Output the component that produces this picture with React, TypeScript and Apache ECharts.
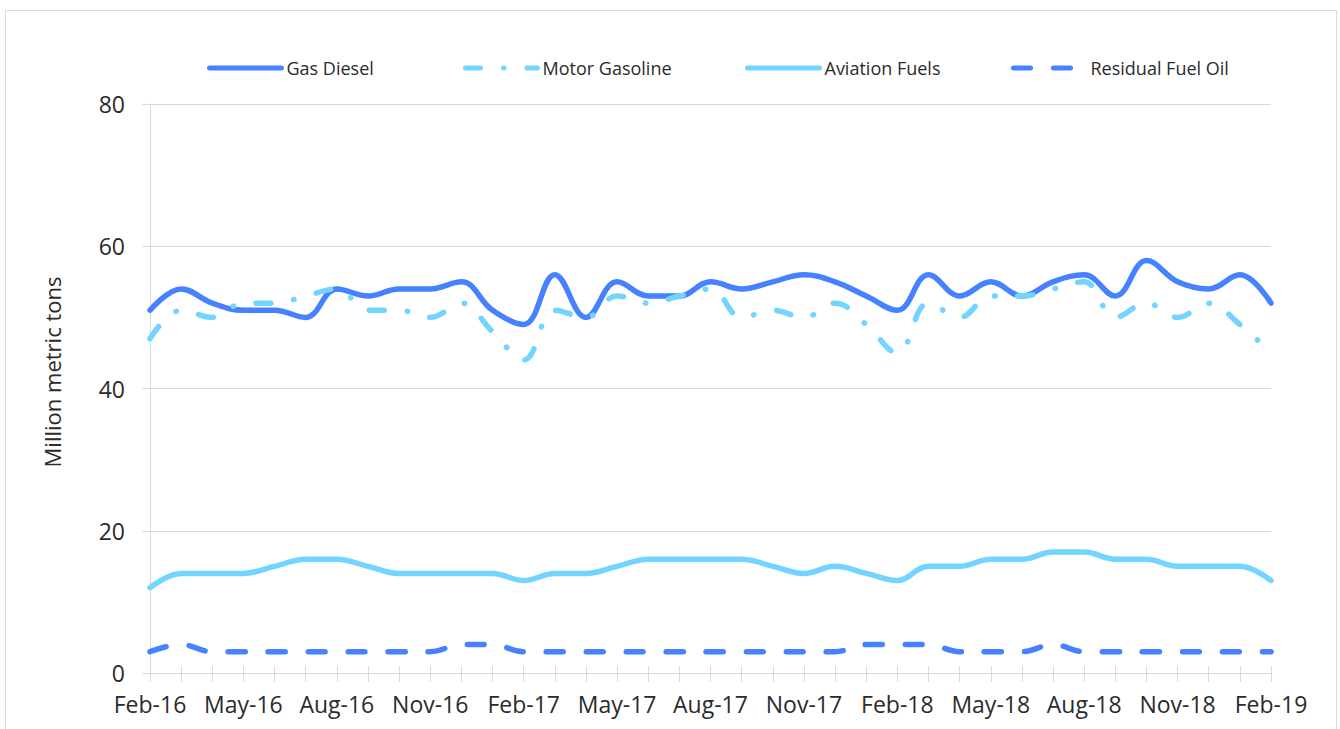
import React, { useEffect, useRef } from "react";
import * as echarts from "echarts";

const months = [
  "Feb-16", "Mar-16", "Apr-16", "May-16", "Jun-16", "Jul-16", "Aug-16", "Sep-16", "Oct-16", "Nov-16", "Dec-16",
  "Jan-17", "Feb-17", "Mar-17", "Apr-17", "May-17", "Jun-17", "Jul-17", "Aug-17", "Sep-17", "Oct-17", "Nov-17", "Dec-17",
  "Jan-18", "Feb-18", "Mar-18", "Apr-18", "May-18", "Jun-18", "Jul-18", "Aug-18", "Sep-18", "Oct-18", "Nov-18", "Dec-18",
  "Jan-19", "Feb-19",
];

const gasDiesel = [51, 54, 52, 51, 51, 50, 54, 53, 54, 54, 55, 51, 49, 56, 50, 55, 53, 53, 55, 54, 55, 56, 55, 53, 51, 56, 53, 55, 53, 55, 56, 53, 58, 55, 54, 56, 52];
const motorGasoline = [47, 51, 50, 52, 52, 53, 54, 51, 51, 50, 52, 48, 44, 51, 50, 53, 52, 53, 54, 50, 51, 50, 52, 49, 45, 52, 50, 53, 53, 54, 55, 50, 52, 50, 52, 49, 45];
const aviationFuels = [12, 14, 14, 14, 15, 16, 16, 15, 14, 14, 14, 14, 13, 14, 14, 15, 16, 16, 16, 16, 15, 14, 15, 14, 13, 15, 15, 16, 16, 17, 17, 16, 16, 15, 15, 15, 13];
const residualFuelOil = [3, 4, 3, 3, 3, 3, 3, 3, 3, 3, 4, 4, 3, 3, 3, 3, 3, 3, 3, 3, 3, 3, 3, 4, 4, 4, 3, 3, 3, 4, 3, 3, 3, 3, 3, 3, 3];

const seriesNames = ["Gas Diesel", "Motor Gasoline", "Aviation Fuels", "Residual Fuel Oil"];
const yTitle = "Million metric tons";

const BLUE = "#4681FF";
const CYAN = "#73D5FF";
const GRID = "#D9D9D9";
const TEXT = "#2b2b2b";
const FONT = "'Open Sans', 'Noto Sans', sans-serif";

export default function App() {
  const ref = useRef<HTMLDivElement>(null);

  useEffect(() => {
    if (!ref.current) return;
    const chart = echarts.init(ref.current, null, { renderer: "svg" });

    const legendLefts = [207, 463, 745, 1011];
    const legends = seriesNames.map((n, i) => ({
      data: [n],
      left: legendLefts[i],
      top: 59,
      padding: 0,
      itemWidth: 72,
      itemHeight: 18,
      itemGap: 0,
      itemStyle: { opacity: 0 },
      lineStyle: { width: 5, cap: "round" },
      textStyle: { fontFamily: FONT, fontSize: 18, color: TEXT },
    }));

    const mk = (name: string, data: number[], color: string, type: any) => ({
      name,
      type: "line",
      data,
      smooth: 0.4,
      symbol: "none",
      showSymbol: false,
      lineStyle: { color, width: 5.5, type, cap: "round", join: "round" },
      itemStyle: { color },
    });

    chart.setOption({
      animation: false,
      backgroundColor: "#ffffff",
      textStyle: { fontFamily: FONT },
      legend: legends,
      graphic: [
        {
          type: "rect",
          z: -10,
          shape: { x: 5.5, y: 10.5, width: 1331, height: 760 },
          style: { fill: "none", stroke: GRID, lineWidth: 1 },
        },
        {
          type: "text",
          x: 52,
          y: 372,
          rotation: Math.PI / 2,
          style: {
            text: yTitle,
            fontFamily: FONT,
            fontSize: 22,
            fill: TEXT,
            textAlign: "center",
            textVerticalAlign: "middle",
          },
        },
      ],
      grid: { left: 150, right: 69, top: 104, bottom: 56, containLabel: false },
      xAxis: [
        {
          type: "category",
          data: months,
          boundaryGap: false,
          axisLine: { show: true, lineStyle: { color: GRID, width: 1 } },
          axisTick: { show: true, interval: 0, length: 9, lineStyle: { color: GRID } },
          axisLabel: { interval: 2, fontFamily: FONT, fontSize: 23, color: TEXT, margin: 19 },
          splitLine: { show: false },
        },
        {
          type: "category",
          data: months,
          position: "bottom",
          offset: 0,
          boundaryGap: false,
          axisLine: { show: false },
          axisTick: { show: true, inside: true, interval: 0, length: 7, lineStyle: { color: GRID } },
          axisLabel: { show: false },
          splitLine: { show: false },
        },
      ],
      yAxis: {
        type: "value",
        min: 0,
        max: 80,
        interval: 20,
        axisLine: { show: true, lineStyle: { color: GRID, width: 1 } },
        axisTick: { show: true, length: 8, lineStyle: { color: GRID } },
        axisLabel: { fontFamily: FONT, fontSize: 23, color: TEXT, margin: 25 },
        splitLine: { show: true, lineStyle: { color: GRID, width: 1 } },
      },
      series: [
        mk(seriesNames[0], gasDiesel, BLUE, "solid"),
        mk(seriesNames[1], motorGasoline, CYAN, [15, 23, 0.5, 23]),
        mk(seriesNames[2], aviationFuels, CYAN, "solid"),
        mk(seriesNames[3], residualFuelOil, BLUE, [17, 23]),
      ],
    });

    return () => chart.dispose();
  }, []);

  return (
    <div
      ref={ref}
      style={{ position: "absolute", left: 0, top: 0, width: 1340, height: 729, background: "#fff" }}
    />
  );
}
